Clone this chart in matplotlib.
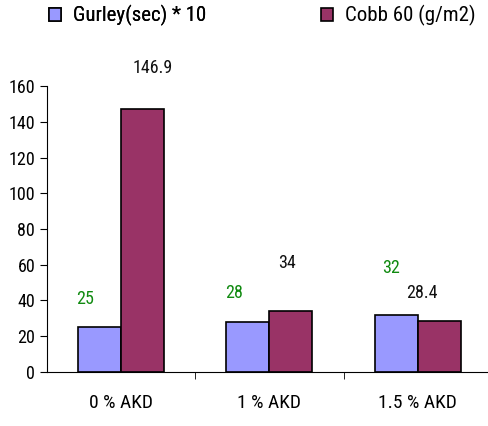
import matplotlib.pyplot as plt
from matplotlib import font_manager
import numpy as np

names = {f.name for f in font_manager.fontManager.ttflist}
candidates = ["Liberation Sans Narrow", "Roboto Condensed", "Open Sans Condensed",
              "Noto Sans Condensed", "Liberation Sans"]
family = next(c for c in candidates if c in names)
plt.rcParams["font.family"] = [family, "DejaVu Sans"]

categories = ["0 % AKD", "1 % AKD", "1.5 % AKD"]
gurley = [25, 28, 32]
cobb = [146.9, 34, 28.4]
gurley_labels = ["25", "28", "32"]
cobb_labels = ["146.9", "34", "28.4"]
# label anchor positions (x offset from category centre, y in data units)
gurley_lbl_pos = [(-0.24, 41), (-0.24, 44), (-0.18, 58)]
cobb_lbl_pos = [(0.21, 170), (0.12, 61), (0.03, 44)]

narrow = family != "Liberation Sans"
fs = 1.0 if narrow else 0.85

fig = plt.figure(figsize=(4.89, 4.26), dpi=100)
ax = fig.add_axes([0.096, 0.127, 0.91, 0.671])

x = np.arange(len(categories))
w = 0.29
b1 = ax.bar(x - w / 2, gurley, w, color="#9999ff", edgecolor="black", linewidth=1.2,
            label="Gurley(sec) * 10")
b2 = ax.bar(x + w / 2, cobb, w, color="#993366", edgecolor="black", linewidth=1.2,
            label="Cobb 60 (g/m2)")

for i, (dx, y) in enumerate(gurley_lbl_pos):
    ax.text(i + dx, y, gurley_labels[i], color="#108a10", fontsize=13 * fs,
            ha="center", va="center", clip_on=False)
for i, (dx, y) in enumerate(cobb_lbl_pos):
    ax.text(i + dx, y, cobb_labels[i], color="#111111", fontsize=13 * fs,
            ha="center", va="center", clip_on=False)

ax.set_xlim(-0.5, 2.5)
ax.set_ylim(0, 160)
ax.set_yticks(range(0, 161, 20))
ax.set_xticks(x)
ax.set_xticklabels(categories, fontsize=14 * fs)
ax.tick_params(axis="x", length=0, pad=16)
ax.set_xticks([0.5, 1.5], minor=True)
ax.tick_params(axis="x", which="minor", length=5, direction="out")
ax.tick_params(axis="y", labelsize=13 * fs, length=5, direction="out")

for s in ["top", "right"]:
    ax.spines[s].set_visible(False)

leg_kw = dict(loc="center left", frameon=False, fontsize=15 * fs, borderpad=0,
              borderaxespad=0, handlelength=0.6, handleheight=0.6, handletextpad=0.55)
leg1 = fig.legend(handles=[b1], bbox_to_anchor=(0.1, 0.963), **leg_kw)
fig.legend(handles=[b2], bbox_to_anchor=(0.656, 0.963), **leg_kw)
fig.add_artist(leg1)

fig.savefig("out.png", dpi=100)
